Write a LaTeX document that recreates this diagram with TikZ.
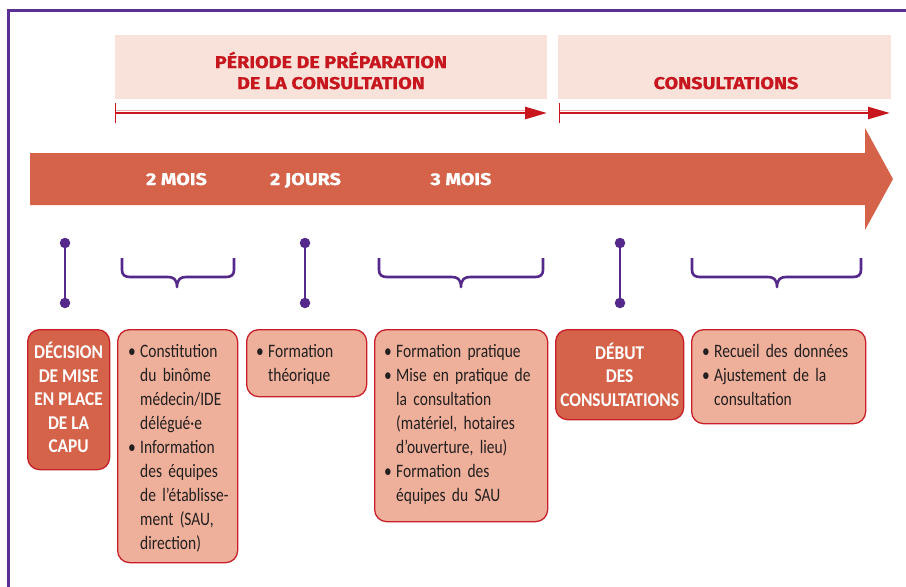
\documentclass[tikz,border=0pt]{standalone}
\usepackage{fontspec}
\setmainfont{Carlito}[FakeStretch=0.815, WordSpace=0.75]
\newfontfamily\boxbold{Carlito}[FakeStretch=0.89]
\newfontfamily\hdfont{Fira Sans}[FakeStretch=1.16, FakeBold=0.8]
\usetikzlibrary{arrows.meta,calc}
\definecolor{framepurple}{RGB}{92,48,146}
\definecolor{markpurple}{RGB}{85,40,140}
\definecolor{hdrfill}{RGB}{248,226,217}
\definecolor{hdrred}{RGB}{200,22,30}
\definecolor{hdrpink}{RGB}{240,170,170}
\definecolor{bigarrow}{RGB}{212,99,74}
\definecolor{lightfill}{RGB}{238,176,154}
\definecolor{darkfill}{RGB}{212,99,74}
\definecolor{boxred}{RGB}{200,30,40}
\definecolor{textdark}{RGB}{35,31,32}
\newcommand\itm[1]{\par\parskip=0pt\relax\noindent\hangindent=12pt\hangafter=1\hbox to 12pt{\textbullet\hss}#1\par}
\newcommand\bracedraw[3]{%
  \draw[bracestyle] (#1,258) -- (#1,270) .. controls (#1,275) and ({#1+3},277) .. ({#1+8},277)
    -- ({#3-9},277) .. controls ({#3-4},277) and (#3,279) .. (#3,287)
    .. controls (#3,279) and ({#3+4},277) .. ({#3+9},277)
    -- ({#2-8},277) .. controls ({#2-3},277) and (#2,275) .. (#2,270) -- (#2,258);}
\begin{document}
\begin{tikzpicture}[x=1pt,y=-1pt,
  hdrbox/.style={fill=hdrfill, draw=none, inner sep=0, anchor=north west},
  hdrtxt/.style={font=\hdfont\bfseries\fontsize{17}{20}\selectfont, text=hdrred, anchor=base, inner sep=0},
  arrlbl/.style={font=\hdfont\bfseries\fontsize{17}{20}\selectfont, text=white, anchor=base, inner sep=0},
  stepbox/.style={draw=boxred, line width=1.3pt, rounded corners=12pt, anchor=north west, inner sep=0},
  lightbox/.style={stepbox, fill=lightfill},
  darkbox/.style={stepbox, fill=darkfill},
  bodytxt/.style={font=\fontsize{19}{24}\selectfont, text=textdark, anchor=north west, inner sep=0, text width=170pt, align=left},
  darktxt/.style={font=\boxbold\bfseries\fontsize{19.5}{23.5}\selectfont, text=white, align=center, inner sep=0},
  vline/.style={draw=markpurple, line width=2pt},
  markdot/.style={circle, fill=markpurple, inner sep=0, minimum size=10.5pt},
  bracestyle/.style={draw=markpurple, line width=2.6pt, line join=round},
  redline/.style={draw=hdrred, line width=2.6pt, {Bar[width=20pt,line width=1.2pt]}-{Triangle[length=22pt,width=12pt]}},
  pinkline/.style={draw=hdrpink, line width=1.5pt},
]
\useasboundingbox (0,0) rectangle (906,587);
% frame
\draw[framepurple, line width=2.5pt] (8.5,600) -- (8.5,10.5) -- (920,10.5);

% header boxes
\node[hdrbox, minimum width=432pt, minimum height=64pt] (h1) at (115,35) {};
\node[hdrbox, minimum width=333pt, minimum height=64pt] (h2) at (558,35) {};
\node[hdrtxt] (h1a) at (331,68) {PÉRIODE DE PRÉPARATION};
\node[hdrtxt] (h1b) at (331,89) {DE LA CONSULTATION};
\node[hdrtxt] (h2a) at (726,89) {CONSULTATIONS};

% red period arrows
\coordinate (p1s) at (115,113);
\coordinate (p1e) at (547,113);
\coordinate (p2s) at (559,113);
\coordinate (p2e) at (890,113);
\draw[pinkline] (116,110.3) -- (528,110.3);
\draw[pinkline] (560,110.3) -- (871,110.3);
\draw[redline] (p1s) -- (p1e);
\draw[redline] (p2s) -- (p2e);

% big arrow
\fill[bigarrow] (30,153) -- (865,153) -- (865,128) -- (893,179) -- (865,230) -- (865,205) -- (30,205) -- cycle;
\node[arrlbl] (l1) at (176.5,185) {2 MOIS};
\node[arrlbl] (l2) at (305.5,185) {2 JOURS};
\node[arrlbl] (l3) at (461,185) {3 MOIS};

% markers
\node[markdot] (d1a) at (65,243) {};
\node[markdot] (d1b) at (65,303) {};
\draw[vline] (d1a) -- (d1b);
\node[markdot] (d2a) at (305,243) {};
\node[markdot] (d2b) at (305,303) {};
\draw[vline] (d2a) -- (d2b);
\node[markdot] (d3a) at (620,243) {};
\node[markdot] (d3b) at (620,303) {};
\draw[vline] (d3a) -- (d3b);

% braces
\bracedraw{122}{234}{177}
\bracedraw{379}{543}{461}
\bracedraw{692}{861}{777}

% boxes
\node[darkbox, minimum width=82pt, minimum height=140pt] (b1) at (27,329) {};
\node[lightbox, minimum width=120pt, minimum height=233pt] (b2) at (117,329) {};
\node[lightbox, minimum width=120pt, minimum height=67pt] (b3) at (246,329) {};
\node[lightbox, minimum width=173pt, minimum height=192pt] (b4) at (374,329) {};
\node[darkbox, minimum width=128pt, minimum height=90pt] (b5) at (555,329) {};
\node[lightbox, minimum width=174pt, minimum height=94pt] (b6) at (691,329) {};

\node[darktxt] (t1) at ($(b1.center)+(0,-2)$) {DÉCISION\\DE MISE\\EN PLACE\\DE LA\\CAPU};
\node[darktxt] (t5) at ($(b5.center)+(0,0)$) {DÉBUT\\DES\\CONSULTATIONS};

\node[bodytxt] (t2) at (128,333) {\itm{Constitution\newline du binôme\newline médecin/IDE\newline délégué·e}\itm{Information\newline des équipes\newline de l’établisse-\newline ment (SAU,\newline direction)}};
\node[bodytxt] (t3) at (256,333) {\itm{Formation\newline théorique}};
\node[bodytxt] (t4) at (384,333) {\itm{Formation pratique}\itm{Mise en pratique de\newline la consultation\newline (matériel, hotaires\newline d’ouverture, lieu)}\itm{Formation des\newline équipes du SAU}};
\node[bodytxt] (t6) at (702,333) {\itm{Recueil des données}\itm{Ajustement de la\newline consultation}};
\end{tikzpicture}
\end{document}
